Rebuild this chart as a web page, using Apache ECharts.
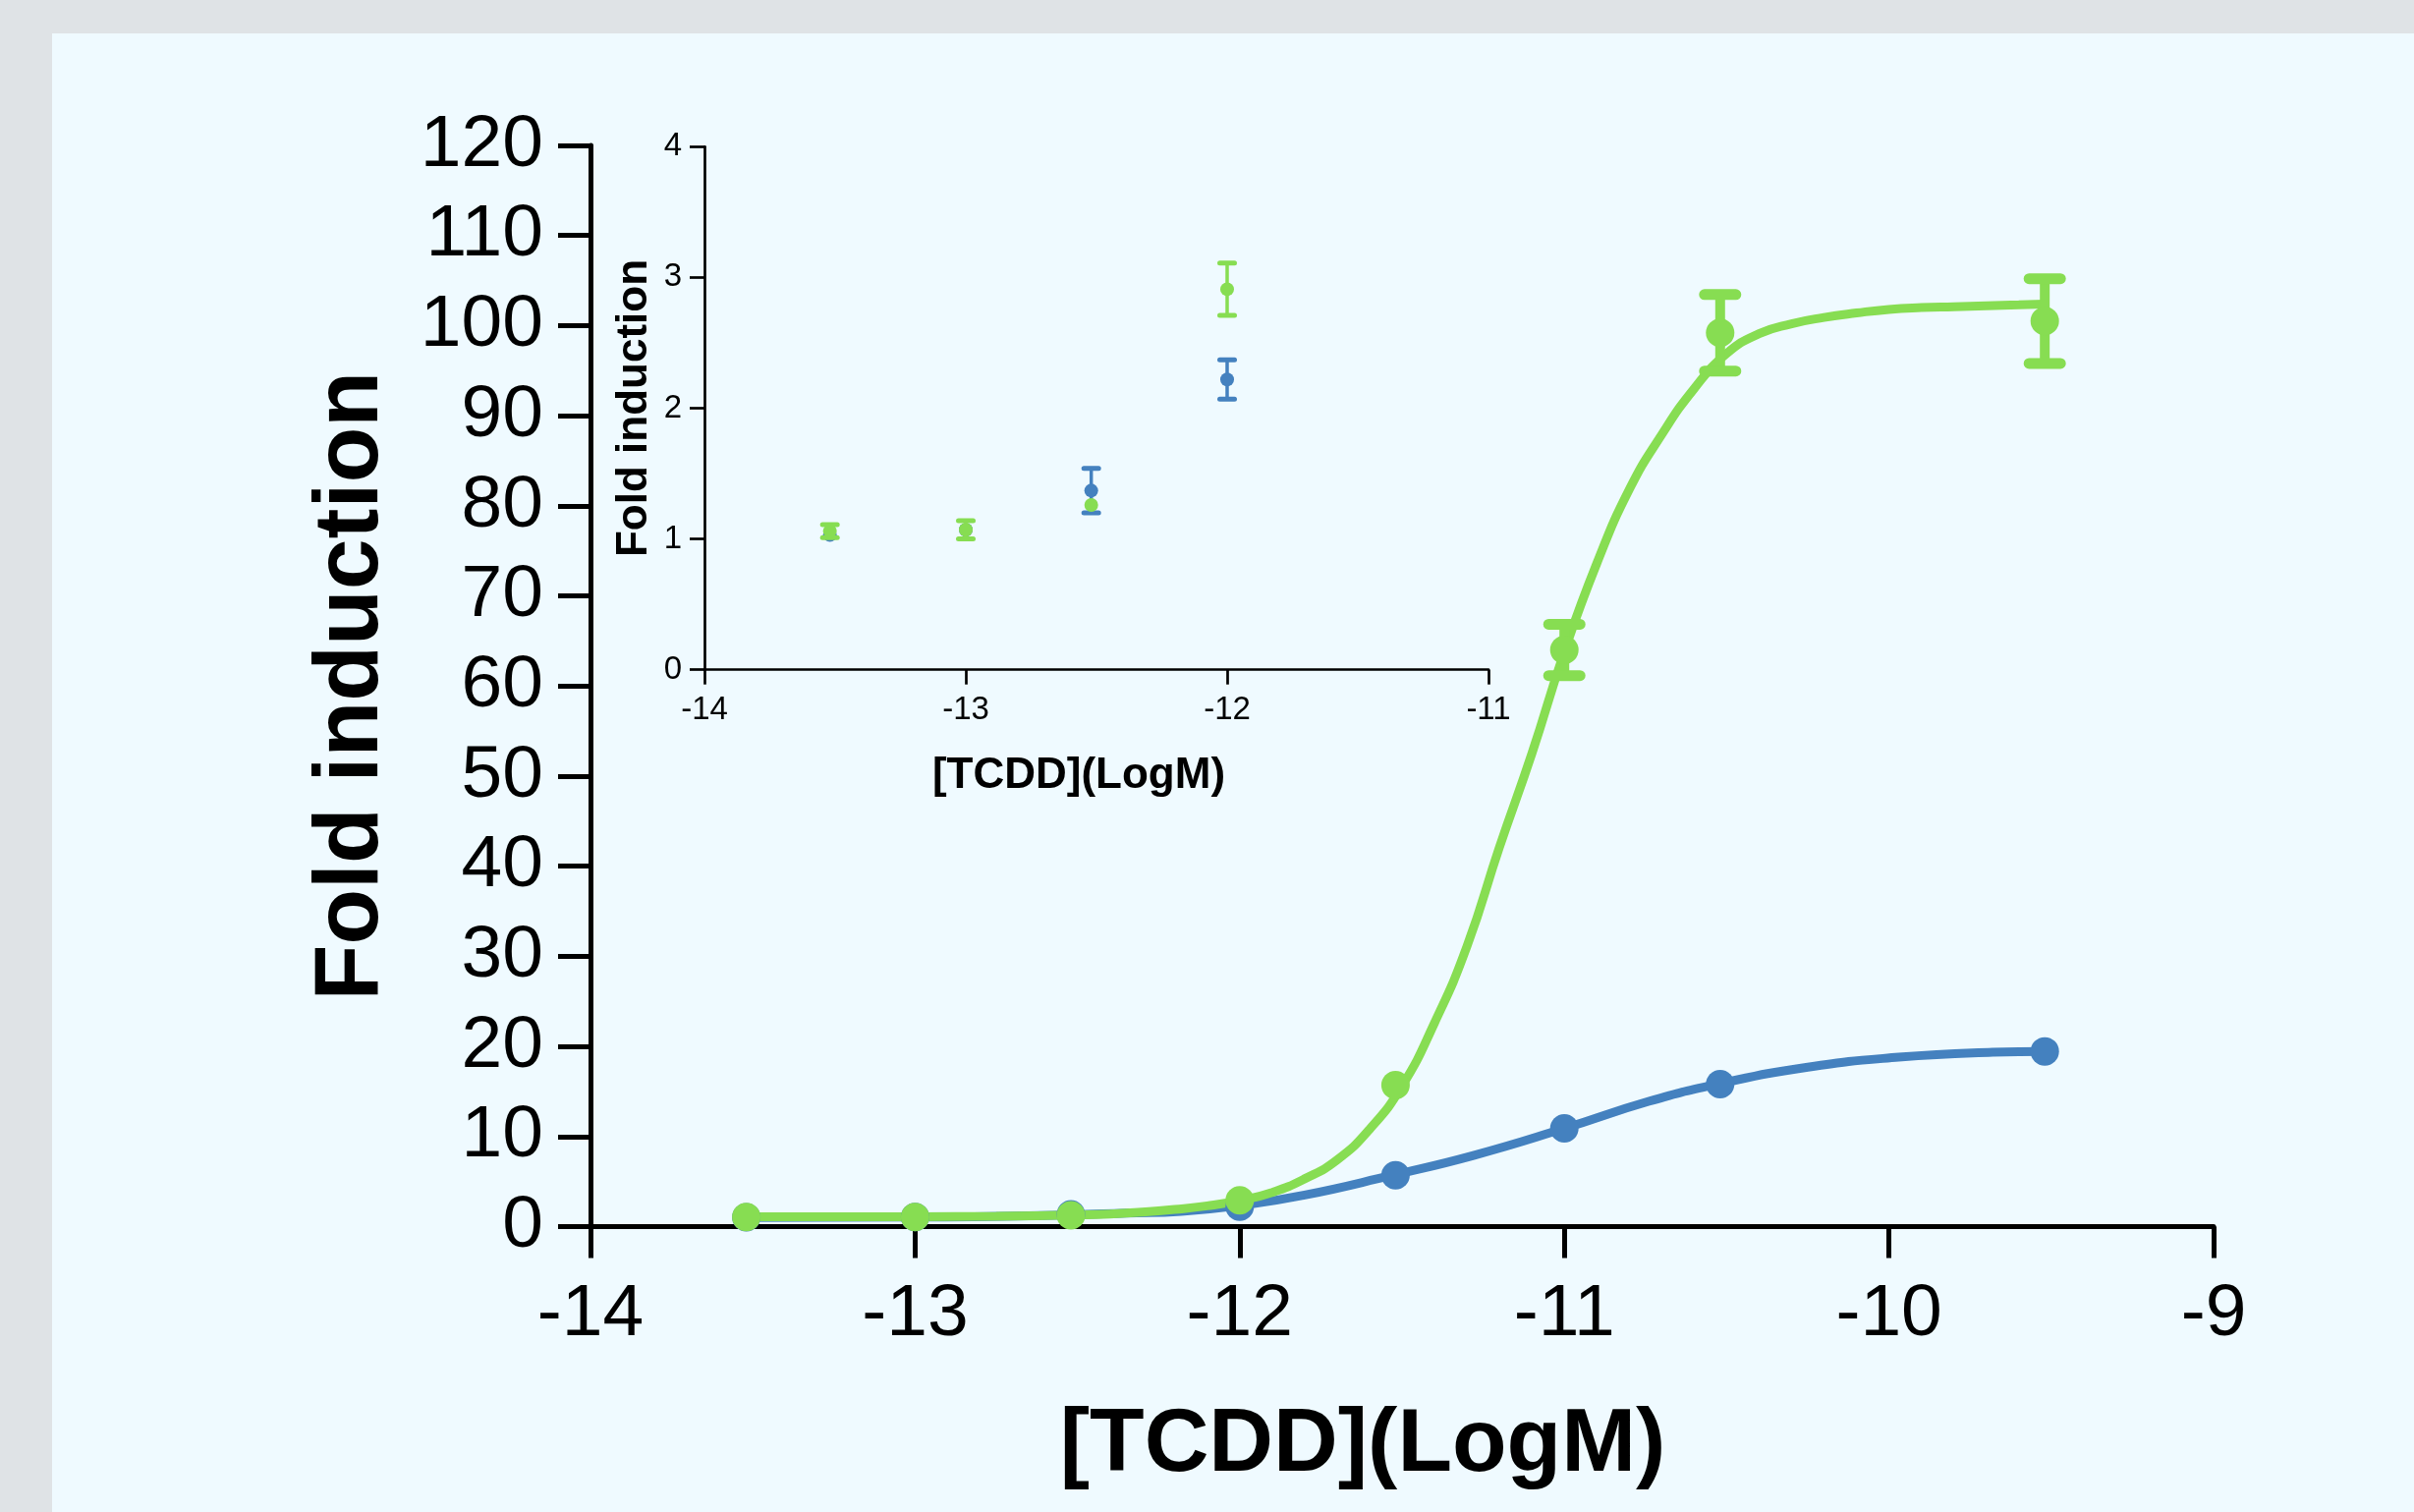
<!DOCTYPE html>
<html>
<head>
<meta charset="utf-8">
<script src="https://cdn.jsdelivr.net/npm/echarts@6/dist/echarts.min.js"></script>
<style>
  html, body { margin: 0; padding: 0; width: 2457px; height: 1539px; background: #dfe3e6; overflow: hidden; }
  #panel { position: absolute; left: 53px; top: 34px; right: 0; bottom: 0; background: #effaff; }
  #chart { position: absolute; left: 0; top: 0; width: 2457px; height: 1539px; }
</style>
</head>
<body>
<div id="panel"></div>
<div id="chart"></div>
<script>
// ---- data ----
const doseLogM   = [-13.52, -13, -12.52, -12, -11.52, -11, -10.52, -9.52];
const greenMean  = [1.06, 1.07, 1.26, 2.91, 15.7, 64.0, 99.2, 100.5];
const greenSEM   = [0.05, 0.07, 0.04, 0.20, 0.6, 2.85, 4.25, 4.7];
const blueMean   = [1.03, 1.07, 1.37, 2.22, 5.7, 10.9, 15.8, 19.45];
const blueSEM    = [0.02, 0.03, 0.17, 0.15, 0.3, 0.4, 0.5, 0.5];
const insetCount = 4; // first four doses are shown in the inset

// fitted curves
const greenFitX = [-13.52, -13.25, -13.0, -12.75, -12.5, -12.4, -12.3, -12.2, -12.1, -12.0, -11.9, -11.8, -11.7, -11.6, -11.5, -11.4, -11.3, -11.2, -11.1, -11.0, -10.9, -10.8, -10.7, -10.6, -10.5, -10.4, -10.3, -10.2, -10.1, -10.0, -9.9, -9.8, -9.7, -9.6, -9.52];
const greenFitY = [1.1, 1.1, 1.1, 1.15, 1.3, 1.4, 1.6, 1.9, 2.3, 2.9, 3.8, 5.3, 7.4, 10.8, 15.6, 22.6, 31.1, 42.1, 52.5, 63.8, 73.6, 81.8, 87.9, 93.0, 96.9, 99.1, 100.2, 100.9, 101.4, 101.8, 102.0, 102.1, 102.2, 102.3, 102.4];
const blueFitX  = [-13.52, -13.0, -12.52, -12.35, -12.18, -12.0, -11.8, -11.53, -11.28, -11.0, -10.74, -10.53, -10.25, -9.97, -9.68, -9.52];
const blueFitY  = [1.0, 1.05, 1.3, 1.5, 1.7, 2.35, 3.5, 5.7, 7.9, 10.9, 13.9, 15.8, 17.7, 18.8, 19.35, 19.45];

const mainXTicks  = { min: -14, max: -9, step: 1 };
const mainYTicks  = { min: 0, max: 120, step: 10 };
const insetXTicks = { min: -14, max: -11, step: 1 };
const insetYTicks = { min: 0, max: 4, step: 1 };

const xTitle = '[TCDD](LogM)';
const yTitle = 'Fold induction';

// ---- styling ----
const GREEN = '#87dd52';
const BLUE  = '#4481bf';
const FONT  = '"Liberation Sans", Arial, Helvetica, sans-serif';

function zip(xs, ys) { return xs.map((x, i) => [x, ys[i]]); }
function pts(xs, ys, es, n) {
  const out = [];
  for (let i = 0; i < (n || xs.length); i++) out.push([xs[i], ys[i], es[i]]);
  return out;
}

function pointRenderer(color, sym, capHalf, capW, stemW) {
  return function (params, api) {
    const x = api.value(0), y = api.value(1), e = api.value(2);
    const c = api.coord([x, y]);
    const t = api.coord([x, y + e]);
    const b = api.coord([x, y - e]);
    const children = [];
    if (c[1] - t[1] > sym * 0.42) {
      children.push({ type: 'line', shape: { x1: c[0], y1: t[1], x2: c[0], y2: b[1] },
        style: { stroke: color, lineWidth: stemW } });
      children.push({ type: 'line', shape: { x1: c[0] - capHalf, y1: t[1], x2: c[0] + capHalf, y2: t[1] },
        style: { stroke: color, lineWidth: capW, lineCap: 'round' } });
      children.push({ type: 'line', shape: { x1: c[0] - capHalf, y1: b[1], x2: c[0] + capHalf, y2: b[1] },
        style: { stroke: color, lineWidth: capW, lineCap: 'round' } });
    }
    children.push({ type: 'circle', shape: { cx: c[0], cy: c[1], r: sym / 2 }, style: { fill: color } });
    return { type: 'group', children };
  };
}

function axisCommon(lineW, tickLen, fs, margin) {
  return {
    type: 'value',
    splitLine: { show: false },
    axisLine: { show: true, onZero: false, lineStyle: { color: '#000', width: lineW } },
    axisTick: { show: true, length: tickLen, lineStyle: { color: '#000', width: lineW } },
    axisLabel: { color: '#000', fontSize: fs, fontFamily: FONT, margin: margin }
  };
}

const chart = echarts.init(document.getElementById('chart'), null, { renderer: 'canvas' });

const option = {
  animation: false,
  backgroundColor: 'transparent',
  grid: [
    { left: 601, right: 204, top: 148, bottom: 290.5 },
    { left: 717, right: 942, top: 149.3, bottom: 857.3 }
  ],
  xAxis: [
    Object.assign(axisCommon(5, 32, 75, 52), {
      gridIndex: 0, min: mainXTicks.min, max: mainXTicks.max, interval: mainXTicks.step,
      name: xTitle, nameLocation: 'middle', nameGap: 178,
      nameTextStyle: { color: '#000', fontSize: 91, fontWeight: 'bold', fontFamily: FONT, padding: [0, 80, 0, 0] }
    }),
    Object.assign(axisCommon(2.7, 15, 33, 25), {
      gridIndex: 1, min: insetXTicks.min, max: insetXTicks.max, interval: insetXTicks.step,
      name: xTitle, nameLocation: 'middle', nameGap: 86,
      nameTextStyle: { color: '#000', fontSize: 44, fontWeight: 'bold', fontFamily: FONT, padding: [0, 36, 0, 0] }
    })
  ],
  yAxis: [
    Object.assign(axisCommon(5, 33, 75, 48), {
      gridIndex: 0, min: mainYTicks.min, max: mainYTicks.max, interval: mainYTicks.step,
      name: yTitle, nameLocation: 'middle', nameGap: 196,
      nameTextStyle: { color: '#000', fontSize: 93, fontWeight: 'bold', fontFamily: FONT }
    }),
    Object.assign(axisCommon(2.7, 15, 33, 23), {
      gridIndex: 1, min: insetYTicks.min, max: insetYTicks.max, interval: insetYTicks.step,
      name: yTitle, nameLocation: 'middle', nameGap: 49,
      nameTextStyle: { color: '#000', fontSize: 44, fontWeight: 'bold', fontFamily: FONT }
    })
  ],
  series: [
    { type: 'line', xAxisIndex: 0, yAxisIndex: 0, data: zip(blueFitX, blueFitY), showSymbol: false,
      smooth: 0.5, lineStyle: { color: BLUE, width: 9 }, z: 2 },
    { type: 'line', xAxisIndex: 0, yAxisIndex: 0, data: zip(greenFitX, greenFitY), showSymbol: false,
      smooth: 0.5, lineStyle: { color: GREEN, width: 9 }, z: 3 },
    { type: 'custom', xAxisIndex: 0, yAxisIndex: 0, data: pts(doseLogM, blueMean, blueSEM),
      encode: { x: 0, y: 1 }, renderItem: pointRenderer(BLUE, 29, 16, 11, 10), z: 4 },
    { type: 'custom', xAxisIndex: 0, yAxisIndex: 0, data: pts(doseLogM, greenMean, greenSEM),
      encode: { x: 0, y: 1 }, renderItem: pointRenderer(GREEN, 29, 16, 11, 10), z: 5 },
    { type: 'custom', xAxisIndex: 1, yAxisIndex: 1, data: pts(doseLogM, blueMean, blueSEM, insetCount),
      encode: { x: 0, y: 1 }, renderItem: pointRenderer(BLUE, 14, 7.5, 5, 3.5), z: 6 },
    { type: 'custom', xAxisIndex: 1, yAxisIndex: 1, data: pts(doseLogM, greenMean, greenSEM, insetCount),
      encode: { x: 0, y: 1 }, renderItem: pointRenderer(GREEN, 14, 7.5, 5, 3.5), z: 7 }
  ]
};
chart.setOption(option);
</script>
</body>
</html>
